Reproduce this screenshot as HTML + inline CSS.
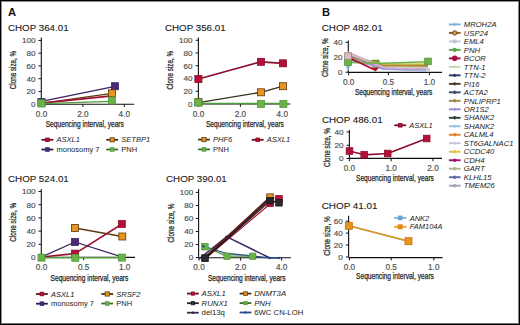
<!DOCTYPE html>
<html><head><meta charset="utf-8"><style>
html,body{margin:0;padding:0;background:#fff;}
#w{position:relative;width:520px;height:325px;overflow:hidden;background:#fff;}
svg{position:absolute;left:0;top:0;font-family:"Liberation Sans", sans-serif;}
</style></head><body><div id="w">
<svg width="520" height="325" viewBox="0 0 520 325">
<rect x="0" y="0" width="520" height="325" fill="#fff"/>
<text x="7.9" y="15.8" font-size="11.2" text-anchor="start" fill="#111" font-weight="bold" >A</text>
<text x="321.9" y="15.8" font-size="11.2" text-anchor="start" fill="#111" font-weight="bold" >B</text>
<text x="8" y="30.6" font-size="9.9" text-anchor="start" fill="#1a1a1a" stroke="#1a1a1a" stroke-width="0.12" textLength="60.6" lengthAdjust="spacingAndGlyphs" >CHOP 364.01</text>
<line x1="41.3" y1="37.6" x2="41.3" y2="104.2" stroke="#111" stroke-width="1.1"/>
<line x1="38.5" y1="104.2" x2="41.3" y2="104.2" stroke="#111" stroke-width="1"/>
<text x="35.4" y="107.05" font-size="8.1" text-anchor="end" fill="#505050" stroke="#505050" stroke-width="0.18" >0</text>
<line x1="38.5" y1="91.44800000000001" x2="41.3" y2="91.44800000000001" stroke="#111" stroke-width="1"/>
<text x="35.4" y="94.298" font-size="8.1" text-anchor="end" fill="#505050" stroke="#505050" stroke-width="0.18" >20</text>
<line x1="38.5" y1="78.696" x2="41.3" y2="78.696" stroke="#111" stroke-width="1"/>
<text x="35.4" y="81.54599999999999" font-size="8.1" text-anchor="end" fill="#505050" stroke="#505050" stroke-width="0.18" >40</text>
<line x1="38.5" y1="65.944" x2="41.3" y2="65.944" stroke="#111" stroke-width="1"/>
<text x="35.4" y="68.794" font-size="8.1" text-anchor="end" fill="#505050" stroke="#505050" stroke-width="0.18" >60</text>
<line x1="38.5" y1="53.19200000000001" x2="41.3" y2="53.19200000000001" stroke="#111" stroke-width="1"/>
<text x="35.4" y="56.04200000000001" font-size="8.1" text-anchor="end" fill="#505050" stroke="#505050" stroke-width="0.18" >80</text>
<line x1="38.5" y1="40.44000000000001" x2="41.3" y2="40.44000000000001" stroke="#111" stroke-width="1"/>
<text x="35.4" y="43.29000000000001" font-size="8.1" text-anchor="end" fill="#505050" stroke="#505050" stroke-width="0.18" >100</text>
<line x1="41" y1="104.2" x2="134.2" y2="104.2" stroke="#111" stroke-width="1.1"/>
<line x1="41.5" y1="104.2" x2="41.5" y2="107.0" stroke="#111" stroke-width="1"/>
<text x="41.5" y="116.6" font-size="8.2" text-anchor="middle" fill="#505050" stroke="#505050" stroke-width="0.18" >0.0</text>
<line x1="82.9" y1="104.2" x2="82.9" y2="107.0" stroke="#111" stroke-width="1"/>
<text x="82.9" y="116.6" font-size="8.2" text-anchor="middle" fill="#505050" stroke="#505050" stroke-width="0.18" >2.0</text>
<line x1="124.3" y1="104.2" x2="124.3" y2="107.0" stroke="#111" stroke-width="1"/>
<text x="124.3" y="116.6" font-size="8.2" text-anchor="middle" fill="#505050" stroke="#505050" stroke-width="0.18" >4.0</text>
<text x="45.7" y="127.4" font-size="9.0" text-anchor="start" fill="#222" stroke="#222" stroke-width="0.25" textLength="78.2" lengthAdjust="spacingAndGlyphs" >Sequencing interval, years</text>
<text x="15.78" y="89.3" font-size="9.0" text-anchor="start" fill="#2a2a2a" stroke="#2a2a2a" stroke-width="0.28" textLength="38.5" lengthAdjust="spacingAndGlyphs" transform="rotate(-90 15.78 89.3)" >Clone size, %</text>
<polyline points="41.5,101.4 115,86.4" fill="none" stroke="#3a2060" stroke-width="1.3" stroke-linejoin="round"/>
<polyline points="41.5,103.4 112,93.3" fill="none" stroke="#5a3a10" stroke-width="1.3" stroke-linejoin="round"/>
<polyline points="41.5,103.2 112,95.9" fill="none" stroke="#a01030" stroke-width="1.8" stroke-linejoin="round"/>
<polyline points="41.5,103.6 112,101.3" fill="none" stroke="#4f9a3a" stroke-width="1.3" stroke-linejoin="round"/>
<rect x="37.9" y="98.60000000000001" width="7.2" height="7.2" fill="#4a2a78" stroke="#3a2060" stroke-width="0.8"/>
<rect x="111.5" y="82.7" width="7.0" height="7.0" fill="#4a2a78" stroke="#3a2060" stroke-width="0.8"/>
<rect x="108.4" y="89.8" width="7.0" height="7.0" fill="#e8951e" stroke="#5a3a10" stroke-width="0.8"/>
<rect x="37.9" y="99.80000000000001" width="7.2" height="7.2" fill="#6cb247" stroke="#4f9a3a" stroke-width="0.8"/>
<rect x="108.4" y="97.1" width="7.0" height="7.0" fill="#6cb247" stroke="#4f9a3a" stroke-width="0.8"/>
<line x1="41.5" y1="139.8" x2="53.3" y2="139.8" stroke="#6a0a22" stroke-width="1.8"/>
<rect x="45.6" y="138.0" width="3.6000000000000005" height="3.6000000000000005" fill="#b4103a" stroke="#8a0c28" stroke-width="0.8"/>
<text x="56.5" y="142.4" font-size="7.5" text-anchor="start" fill="#222" font-style="italic" >ASXL1</text>
<line x1="41.5" y1="149.5" x2="53.3" y2="149.5" stroke="#2a1a50" stroke-width="1.8"/>
<rect x="45.6" y="147.7" width="3.6000000000000005" height="3.6000000000000005" fill="#4a2a78" stroke="#3a2060" stroke-width="0.8"/>
<text x="56.5" y="152.1" font-size="7.5" text-anchor="start" fill="#222"  >monosomy 7</text>
<line x1="106.3" y1="139.8" x2="118.1" y2="139.8" stroke="#4a3212" stroke-width="1.8"/>
<rect x="110.10000000000001" y="137.70000000000002" width="4.2" height="4.2" fill="#e8951e" stroke="#5a3a10" stroke-width="0.8"/>
<text x="121.3" y="142.4" font-size="7.5" text-anchor="start" fill="#222" font-style="italic" >SETBP1</text>
<line x1="106.3" y1="149.5" x2="118.1" y2="149.5" stroke="#3a6a30" stroke-width="1.8"/>
<rect x="110.4" y="147.7" width="3.6000000000000005" height="3.6000000000000005" fill="#6cb247" stroke="#4f9a3a" stroke-width="0.8"/>
<text x="121.3" y="152.1" font-size="7.5" text-anchor="start" fill="#222"  >PNH</text>
<text x="165" y="30.6" font-size="9.9" text-anchor="start" fill="#1a1a1a" stroke="#1a1a1a" stroke-width="0.12" textLength="60.6" lengthAdjust="spacingAndGlyphs" >CHOP 356.01</text>
<line x1="198.4" y1="37.6" x2="198.4" y2="104.0" stroke="#111" stroke-width="1.1"/>
<line x1="195.6" y1="104.0" x2="198.4" y2="104.0" stroke="#111" stroke-width="1"/>
<text x="192.6" y="106.85" font-size="8.1" text-anchor="end" fill="#505050" stroke="#505050" stroke-width="0.18" >0</text>
<line x1="195.6" y1="91.248" x2="198.4" y2="91.248" stroke="#111" stroke-width="1"/>
<text x="192.6" y="94.098" font-size="8.1" text-anchor="end" fill="#505050" stroke="#505050" stroke-width="0.18" >20</text>
<line x1="195.6" y1="78.49600000000001" x2="198.4" y2="78.49600000000001" stroke="#111" stroke-width="1"/>
<text x="192.6" y="81.346" font-size="8.1" text-anchor="end" fill="#505050" stroke="#505050" stroke-width="0.18" >40</text>
<line x1="195.6" y1="65.744" x2="198.4" y2="65.744" stroke="#111" stroke-width="1"/>
<text x="192.6" y="68.594" font-size="8.1" text-anchor="end" fill="#505050" stroke="#505050" stroke-width="0.18" >60</text>
<line x1="195.6" y1="52.992000000000004" x2="198.4" y2="52.992000000000004" stroke="#111" stroke-width="1"/>
<text x="192.6" y="55.842000000000006" font-size="8.1" text-anchor="end" fill="#505050" stroke="#505050" stroke-width="0.18" >80</text>
<line x1="195.6" y1="40.24000000000001" x2="198.4" y2="40.24000000000001" stroke="#111" stroke-width="1"/>
<text x="192.6" y="43.09000000000001" font-size="8.1" text-anchor="end" fill="#505050" stroke="#505050" stroke-width="0.18" >100</text>
<line x1="198.4" y1="104.0" x2="290.3" y2="104.0" stroke="#111" stroke-width="1.1"/>
<line x1="198.5" y1="104.0" x2="198.5" y2="106.8" stroke="#111" stroke-width="1"/>
<text x="198.5" y="116.6" font-size="8.2" text-anchor="middle" fill="#505050" stroke="#505050" stroke-width="0.18" >0.0</text>
<line x1="240.4" y1="104.0" x2="240.4" y2="106.8" stroke="#111" stroke-width="1"/>
<text x="240.4" y="116.6" font-size="8.2" text-anchor="middle" fill="#505050" stroke="#505050" stroke-width="0.18" >2.0</text>
<line x1="282.3" y1="104.0" x2="282.3" y2="106.8" stroke="#111" stroke-width="1"/>
<text x="282.3" y="116.6" font-size="8.2" text-anchor="middle" fill="#505050" stroke="#505050" stroke-width="0.18" >4.0</text>
<text x="205.9" y="127.4" font-size="9.0" text-anchor="start" fill="#222" stroke="#222" stroke-width="0.25" textLength="78.0" lengthAdjust="spacingAndGlyphs" >Sequencing interval, years</text>
<text x="172.88" y="89.5" font-size="9.0" text-anchor="start" fill="#2a2a2a" stroke="#2a2a2a" stroke-width="0.28" textLength="38.5" lengthAdjust="spacingAndGlyphs" transform="rotate(-90 172.88 89.5)" >Clone size, %</text>
<polyline points="198.4,79 261,61.8 283,63.3" fill="none" stroke="#8c1030" stroke-width="1.7" stroke-linejoin="round"/>
<polyline points="198.4,102.6 261,92.3 283,86.2" fill="none" stroke="#3a3020" stroke-width="1.4" stroke-linejoin="round"/>
<polyline points="198.4,103.4 283.4,103.6" fill="none" stroke="#4f9a3a" stroke-width="1.5" stroke-linejoin="round"/>
<rect x="194.85" y="75.45" width="7.1000000000000005" height="7.1000000000000005" fill="#b4103a" stroke="#8a0c28" stroke-width="0.8"/>
<rect x="257.5" y="58.3" width="7.0" height="7.0" fill="#b4103a" stroke="#8a0c28" stroke-width="0.8"/>
<rect x="279.5" y="59.8" width="7.0" height="7.0" fill="#b4103a" stroke="#8a0c28" stroke-width="0.8"/>
<rect x="257.5" y="88.8" width="7.0" height="7.0" fill="#e8951e" stroke="#5a3a10" stroke-width="0.8"/>
<rect x="279.5" y="82.7" width="7.0" height="7.0" fill="#e8951e" stroke="#5a3a10" stroke-width="0.8"/>
<rect x="194.85" y="98.65" width="7.1000000000000005" height="7.1000000000000005" fill="#e8951e" stroke="#5a3a10" stroke-width="0.8"/>
<rect x="194.75" y="99.05" width="7.1000000000000005" height="7.1000000000000005" fill="#6cb247" stroke="#4f9a3a" stroke-width="0.8"/>
<rect x="257.5" y="100.4" width="7.0" height="7.0" fill="#6cb247" stroke="#4f9a3a" stroke-width="0.8"/>
<rect x="279.9" y="100.4" width="7.0" height="7.0" fill="#6cb247" stroke="#4f9a3a" stroke-width="0.8"/>
<line x1="198.1" y1="139.6" x2="209.9" y2="139.6" stroke="#4a3212" stroke-width="1.8"/>
<rect x="201.9" y="137.5" width="4.2" height="4.2" fill="#e8951e" stroke="#5a3a10" stroke-width="0.8"/>
<text x="213.1" y="142.2" font-size="7.5" text-anchor="start" fill="#222" font-style="italic" >PHF6</text>
<line x1="198.1" y1="149.4" x2="209.9" y2="149.4" stroke="#3a6a30" stroke-width="1.8"/>
<rect x="202.2" y="147.6" width="3.6000000000000005" height="3.6000000000000005" fill="#6cb247" stroke="#4f9a3a" stroke-width="0.8"/>
<text x="213.1" y="152.0" font-size="7.5" text-anchor="start" fill="#222"  >PNH</text>
<line x1="251.8" y1="139.8" x2="263.6" y2="139.8" stroke="#6a0a22" stroke-width="1.8"/>
<rect x="255.89999999999998" y="138.0" width="3.6000000000000005" height="3.6000000000000005" fill="#b4103a" stroke="#8a0c28" stroke-width="0.8"/>
<text x="266.8" y="142.4" font-size="7.5" text-anchor="start" fill="#222" font-style="italic" >ASXL1</text>
<text x="8" y="181.5" font-size="9.9" text-anchor="start" fill="#1a1a1a" stroke="#1a1a1a" stroke-width="0.12" textLength="60.8" lengthAdjust="spacingAndGlyphs" >CHOP 524.01</text>
<line x1="41.3" y1="189" x2="41.3" y2="257.5" stroke="#111" stroke-width="1.1"/>
<line x1="38.5" y1="257.5" x2="41.3" y2="257.5" stroke="#111" stroke-width="1"/>
<text x="35.4" y="260.35" font-size="8.1" text-anchor="end" fill="#505050" stroke="#505050" stroke-width="0.18" >0</text>
<line x1="38.5" y1="244.3" x2="41.3" y2="244.3" stroke="#111" stroke-width="1"/>
<text x="35.4" y="247.15" font-size="8.1" text-anchor="end" fill="#505050" stroke="#505050" stroke-width="0.18" >20</text>
<line x1="38.5" y1="231.1" x2="41.3" y2="231.1" stroke="#111" stroke-width="1"/>
<text x="35.4" y="233.95" font-size="8.1" text-anchor="end" fill="#505050" stroke="#505050" stroke-width="0.18" >40</text>
<line x1="38.5" y1="217.9" x2="41.3" y2="217.9" stroke="#111" stroke-width="1"/>
<text x="35.4" y="220.75" font-size="8.1" text-anchor="end" fill="#505050" stroke="#505050" stroke-width="0.18" >60</text>
<line x1="38.5" y1="204.7" x2="41.3" y2="204.7" stroke="#111" stroke-width="1"/>
<text x="35.4" y="207.54999999999998" font-size="8.1" text-anchor="end" fill="#505050" stroke="#505050" stroke-width="0.18" >80</text>
<line x1="38.5" y1="191.5" x2="41.3" y2="191.5" stroke="#111" stroke-width="1"/>
<text x="35.4" y="194.35" font-size="8.1" text-anchor="end" fill="#505050" stroke="#505050" stroke-width="0.18" >100</text>
<line x1="41" y1="257.4" x2="135" y2="257.4" stroke="#111" stroke-width="1.1"/>
<line x1="41.5" y1="257.4" x2="41.5" y2="260.2" stroke="#111" stroke-width="1"/>
<text x="41.5" y="269.8" font-size="8.2" text-anchor="middle" fill="#505050" stroke="#505050" stroke-width="0.18" >0.0</text>
<line x1="83.6" y1="257.4" x2="83.6" y2="260.2" stroke="#111" stroke-width="1"/>
<text x="83.6" y="269.8" font-size="8.2" text-anchor="middle" fill="#505050" stroke="#505050" stroke-width="0.18" >0.5</text>
<line x1="124.7" y1="257.4" x2="124.7" y2="260.2" stroke="#111" stroke-width="1"/>
<text x="124.7" y="269.8" font-size="8.2" text-anchor="middle" fill="#505050" stroke="#505050" stroke-width="0.18" >1.0</text>
<text x="50.6" y="280.8" font-size="9.0" text-anchor="start" fill="#222" stroke="#222" stroke-width="0.25" textLength="77.7" lengthAdjust="spacingAndGlyphs" >Sequencing interval, years</text>
<text x="15.88" y="241.8" font-size="9.0" text-anchor="start" fill="#2a2a2a" stroke="#2a2a2a" stroke-width="0.28" textLength="38.9" lengthAdjust="spacingAndGlyphs" transform="rotate(-90 15.88 241.8)" >Clone size, %</text>
<polyline points="75,228 122,236.5" fill="none" stroke="#5a3a10" stroke-width="1.3" stroke-linejoin="round"/>
<polyline points="41.5,257 75,253.6 122,224" fill="none" stroke="#a01030" stroke-width="1.6" stroke-linejoin="round"/>
<polyline points="41.5,257 75,242 122,257" fill="none" stroke="#3a2060" stroke-width="1.3" stroke-linejoin="round"/>
<polyline points="41.5,257.8 122,257.8" fill="none" stroke="#4f9a3a" stroke-width="1.5" stroke-linejoin="round"/>
<rect x="71.5" y="224.5" width="7.0" height="7.0" fill="#e8951e" stroke="#5a3a10" stroke-width="0.8"/>
<rect x="118.8" y="233.0" width="7.0" height="7.0" fill="#e8951e" stroke="#5a3a10" stroke-width="0.8"/>
<rect x="118.3" y="220.5" width="7.0" height="7.0" fill="#b4103a" stroke="#8a0c28" stroke-width="0.8"/>
<rect x="71.5" y="250.1" width="7.0" height="7.0" fill="#b4103a" stroke="#8a0c28" stroke-width="0.8"/>
<rect x="71.5" y="238.5" width="7.0" height="7.0" fill="#4a2a78" stroke="#3a2060" stroke-width="0.8"/>
<rect x="38.0" y="254.10000000000002" width="7.0" height="7.0" fill="#6cb247" stroke="#4f9a3a" stroke-width="0.8"/>
<rect x="71.8" y="254.3" width="7.0" height="7.0" fill="#6cb247" stroke="#4f9a3a" stroke-width="0.8"/>
<rect x="118.5" y="254.10000000000002" width="7.0" height="7.0" fill="#6cb247" stroke="#4f9a3a" stroke-width="0.8"/>
<line x1="36" y1="294" x2="47.8" y2="294" stroke="#6a0a22" stroke-width="1.8"/>
<rect x="40.1" y="292.2" width="3.6000000000000005" height="3.6000000000000005" fill="#b4103a" stroke="#8a0c28" stroke-width="0.8"/>
<text x="51.0" y="296.6" font-size="7.5" text-anchor="start" fill="#222" font-style="italic" >ASXL1</text>
<line x1="36" y1="303.7" x2="47.8" y2="303.7" stroke="#2a1a50" stroke-width="1.8"/>
<rect x="40.1" y="301.9" width="3.6000000000000005" height="3.6000000000000005" fill="#4a2a78" stroke="#3a2060" stroke-width="0.8"/>
<text x="51.0" y="306.3" font-size="7.5" text-anchor="start" fill="#222"  >monosomy 7</text>
<line x1="101.3" y1="294" x2="113.1" y2="294" stroke="#4a3212" stroke-width="1.8"/>
<rect x="105.10000000000001" y="291.9" width="4.2" height="4.2" fill="#e8951e" stroke="#5a3a10" stroke-width="0.8"/>
<text x="116.3" y="296.6" font-size="7.5" text-anchor="start" fill="#222" font-style="italic" >SRSF2</text>
<line x1="101.3" y1="303.5" x2="113.1" y2="303.5" stroke="#3a6a30" stroke-width="1.8"/>
<rect x="105.4" y="301.7" width="3.6000000000000005" height="3.6000000000000005" fill="#6cb247" stroke="#4f9a3a" stroke-width="0.8"/>
<text x="116.3" y="306.1" font-size="7.5" text-anchor="start" fill="#222"  >PNH</text>
<text x="166" y="181.5" font-size="9.9" text-anchor="start" fill="#1a1a1a" stroke="#1a1a1a" stroke-width="0.12" textLength="60.8" lengthAdjust="spacingAndGlyphs" >CHOP 390.01</text>
<line x1="198.6" y1="189" x2="198.6" y2="257.6" stroke="#111" stroke-width="1.1"/>
<line x1="195.79999999999998" y1="257.6" x2="198.6" y2="257.6" stroke="#111" stroke-width="1"/>
<text x="193.2" y="260.45000000000005" font-size="8.1" text-anchor="end" fill="#505050" stroke="#505050" stroke-width="0.18" >0</text>
<line x1="195.79999999999998" y1="244.56000000000003" x2="198.6" y2="244.56000000000003" stroke="#111" stroke-width="1"/>
<text x="193.2" y="247.41000000000003" font-size="8.1" text-anchor="end" fill="#505050" stroke="#505050" stroke-width="0.18" >20</text>
<line x1="195.79999999999998" y1="231.52" x2="198.6" y2="231.52" stroke="#111" stroke-width="1"/>
<text x="193.2" y="234.37" font-size="8.1" text-anchor="end" fill="#505050" stroke="#505050" stroke-width="0.18" >40</text>
<line x1="195.79999999999998" y1="218.48000000000002" x2="198.6" y2="218.48000000000002" stroke="#111" stroke-width="1"/>
<text x="193.2" y="221.33" font-size="8.1" text-anchor="end" fill="#505050" stroke="#505050" stroke-width="0.18" >60</text>
<line x1="195.79999999999998" y1="205.44000000000003" x2="198.6" y2="205.44000000000003" stroke="#111" stroke-width="1"/>
<text x="193.2" y="208.29000000000002" font-size="8.1" text-anchor="end" fill="#505050" stroke="#505050" stroke-width="0.18" >80</text>
<line x1="195.79999999999998" y1="192.40000000000003" x2="198.6" y2="192.40000000000003" stroke="#111" stroke-width="1"/>
<text x="193.2" y="195.25000000000003" font-size="8.1" text-anchor="end" fill="#505050" stroke="#505050" stroke-width="0.18" >100</text>
<line x1="198.6" y1="257.8" x2="291" y2="257.8" stroke="#111" stroke-width="1.1"/>
<line x1="199.0" y1="257.8" x2="199.0" y2="260.6" stroke="#111" stroke-width="1"/>
<text x="199.0" y="270.2" font-size="8.2" text-anchor="middle" fill="#505050" stroke="#505050" stroke-width="0.18" >0.0</text>
<line x1="240.6" y1="257.8" x2="240.6" y2="260.6" stroke="#111" stroke-width="1"/>
<text x="240.6" y="270.2" font-size="8.2" text-anchor="middle" fill="#505050" stroke="#505050" stroke-width="0.18" >2.0</text>
<line x1="281.6" y1="257.8" x2="281.6" y2="260.6" stroke="#111" stroke-width="1"/>
<text x="281.6" y="270.2" font-size="8.2" text-anchor="middle" fill="#505050" stroke="#505050" stroke-width="0.18" >4.0</text>
<text x="207.9" y="280.8" font-size="9.0" text-anchor="start" fill="#222" stroke="#222" stroke-width="0.25" textLength="77.7" lengthAdjust="spacingAndGlyphs" >Sequencing interval, years</text>
<text x="173.57999999999998" y="242.6" font-size="9.0" text-anchor="start" fill="#2a2a2a" stroke="#2a2a2a" stroke-width="0.28" textLength="39.1" lengthAdjust="spacingAndGlyphs" transform="rotate(-90 173.57999999999998 242.6)" >Clone size, %</text>
<polyline points="199,259 226.5,236.7 270,258" fill="none" stroke="#3a2060" stroke-width="1.4" stroke-linejoin="round"/>
<polyline points="204.6,246.7 226.7,253.5 252.7,256 270,258 279,258" fill="none" stroke="#2a4a8a" stroke-width="1.3" stroke-linejoin="round"/>
<polyline points="204.6,246.7 226.7,256.2 252.7,256.2" fill="none" stroke="#4f9a3a" stroke-width="1.3" stroke-linejoin="round"/>
<polyline points="205,258 270,198" fill="none" stroke="#4a1a22" stroke-width="2.9" stroke-linejoin="round"/>
<polyline points="206,258 270,204 279,199" fill="none" stroke="#a01030" stroke-width="1.1" stroke-linejoin="round"/>
<polyline points="204,257.5 270,197 279,199" fill="none" stroke="#6a3a14" stroke-width="0.9" stroke-linejoin="round"/>
<polyline points="205.5,258.2 270,201 279,203" fill="none" stroke="#1a1a1a" stroke-width="1.1" stroke-linejoin="round"/>
<rect x="201.65" y="243.45" width="6.5" height="6.5" fill="#6cb247" stroke="#4f9a3a" stroke-width="0.8"/>
<circle cx="203.5" cy="246.2" r="1.3" fill="#2a4a8a"/>
<rect x="201.7" y="254.8" width="6.6000000000000005" height="6.6000000000000005" fill="#2a2a2a" stroke="#111" stroke-width="0.8"/>
<rect x="223.9" y="253.1" width="6.2" height="6.2" fill="#6cb247" stroke="#4f9a3a" stroke-width="0.8"/>
<rect x="249.6" y="253.1" width="6.2" height="6.2" fill="#6cb247" stroke="#4f9a3a" stroke-width="0.8"/>
<rect x="266.75" y="200.05" width="6.5" height="6.5" fill="#b4103a" stroke="#8a0c28" stroke-width="0.8"/>
<rect x="266.75" y="193.85" width="6.5" height="6.5" fill="#e8951e" stroke="#5a3a10" stroke-width="0.8"/>
<rect x="266.75" y="197.45" width="6.5" height="6.5" fill="#2a2228" stroke="#1a1a1a" stroke-width="0.8"/>
<rect x="275.75" y="195.45" width="6.5" height="6.5" fill="#b4103a" stroke="#8a0c28" stroke-width="0.8"/>
<rect x="275.75" y="199.55" width="6.5" height="6.5" fill="#2a2a2a" stroke="#1a1a1a" stroke-width="0.8"/>
<circle cx="226.5" cy="236.7" r="1.3" fill="#3a2060"/>
<circle cx="270" cy="258" r="1.3" fill="#2a4a8a"/>
<circle cx="279" cy="258" r="1.3" fill="#2a4a8a"/>
<line x1="187" y1="293.6" x2="198.8" y2="293.6" stroke="#6a0a22" stroke-width="1.8"/>
<rect x="191.3" y="292.0" width="3.2" height="3.2" fill="#b4103a" stroke="#8a0c28" stroke-width="0.8"/>
<text x="201.60000000000002" y="296.20000000000005" font-size="7.75" text-anchor="start" fill="#222" font-style="italic" >ASXL1</text>
<line x1="187" y1="303.2" x2="198.8" y2="303.2" stroke="#222" stroke-width="1.8"/>
<rect x="191.3" y="301.59999999999997" width="3.2" height="3.2" fill="#333" stroke="#111" stroke-width="0.8"/>
<text x="201.60000000000002" y="305.8" font-size="7.75" text-anchor="start" fill="#222" font-style="italic" >RUNX1</text>
<line x1="187" y1="312.7" x2="198.8" y2="312.7" stroke="#3a2a50" stroke-width="1.8"/>
<circle cx="192.9" cy="312.7" r="1.2" fill="#3a2060"/>
<text x="201.60000000000002" y="315.3" font-size="7.75" text-anchor="start" fill="#222"  >del13q</text>
<line x1="239.6" y1="293.6" x2="251.4" y2="293.6" stroke="#4a3212" stroke-width="1.8"/>
<rect x="243.7" y="291.8" width="3.6000000000000005" height="3.6000000000000005" fill="#e8951e" stroke="#5a3a10" stroke-width="0.8"/>
<text x="254.20000000000002" y="296.20000000000005" font-size="7.75" text-anchor="start" fill="#222" font-style="italic" >DNMT3A</text>
<line x1="239.6" y1="303.1" x2="251.4" y2="303.1" stroke="#3a6a30" stroke-width="1.8"/>
<rect x="243.9" y="301.5" width="3.2" height="3.2" fill="#6cb247" stroke="#4f9a3a" stroke-width="0.8"/>
<text x="254.20000000000002" y="305.70000000000005" font-size="7.75" text-anchor="start" fill="#222" font-style="italic" >PNH</text>
<line x1="239.6" y1="312.5" x2="251.4" y2="312.5" stroke="#2a4a8a" stroke-width="1.8"/>
<circle cx="245.5" cy="312.5" r="1.2" fill="#2a4a8a"/>
<text x="254.20000000000002" y="315.1" font-size="7.75" text-anchor="start" fill="#222"  >6WC CN-LOH</text>
<text x="321.7" y="30.8" font-size="9.9" text-anchor="start" fill="#1a1a1a" stroke="#1a1a1a" stroke-width="0.12" textLength="61" lengthAdjust="spacingAndGlyphs" >CHOP 482.01</text>
<line x1="348.3" y1="40.5" x2="348.3" y2="72.2" stroke="#111" stroke-width="1.1"/>
<line x1="345.5" y1="72.2" x2="348.3" y2="72.2" stroke="#111" stroke-width="1"/>
<text x="342.6" y="75.05" font-size="8.1" text-anchor="end" fill="#505050" stroke="#505050" stroke-width="0.18" >0</text>
<line x1="345.5" y1="57.24" x2="348.3" y2="57.24" stroke="#111" stroke-width="1"/>
<text x="342.6" y="60.09" font-size="8.1" text-anchor="end" fill="#505050" stroke="#505050" stroke-width="0.18" >20</text>
<line x1="345.5" y1="42.28" x2="348.3" y2="42.28" stroke="#111" stroke-width="1"/>
<text x="342.6" y="45.13" font-size="8.1" text-anchor="end" fill="#505050" stroke="#505050" stroke-width="0.18" >40</text>
<line x1="348.3" y1="72.4" x2="442" y2="72.4" stroke="#111" stroke-width="1.1"/>
<line x1="348.6" y1="72.4" x2="348.6" y2="75.2" stroke="#111" stroke-width="1"/>
<text x="348.6" y="84.9" font-size="8.2" text-anchor="middle" fill="#505050" stroke="#505050" stroke-width="0.18" >0.0</text>
<line x1="388.4" y1="72.4" x2="388.4" y2="75.2" stroke="#111" stroke-width="1"/>
<text x="388.4" y="84.9" font-size="8.2" text-anchor="middle" fill="#505050" stroke="#505050" stroke-width="0.18" >0.5</text>
<line x1="429.4" y1="72.4" x2="429.4" y2="75.2" stroke="#111" stroke-width="1"/>
<text x="429.4" y="84.9" font-size="8.2" text-anchor="middle" fill="#505050" stroke="#505050" stroke-width="0.18" >1.0</text>
<text x="354.9" y="94.7" font-size="9.0" text-anchor="start" fill="#222" stroke="#222" stroke-width="0.25" textLength="77.5" lengthAdjust="spacingAndGlyphs" >Sequencing interval, years</text>
<text x="328.48" y="77.1" font-size="9.0" text-anchor="start" fill="#2a2a2a" stroke="#2a2a2a" stroke-width="0.28" textLength="38.7" lengthAdjust="spacingAndGlyphs" transform="rotate(-90 328.48 77.1)" >Clone size, %</text>
<rect x="372.20000000000005" y="60.2" width="6.8" height="6.8" fill="#7a9a30" stroke="#5a7a20" stroke-width="0.8"/>
<polyline points="348,56.492000000000004 383,68.46000000000001 428,70.70400000000001" fill="none" stroke="#6aaee0" stroke-width="1.6" stroke-linejoin="round"/>
<polyline points="348,57.24 383,65.468 428,65.468" fill="none" stroke="#a86a1a" stroke-width="1.6" stroke-linejoin="round"/>
<polyline points="348,54.996 383,67.712 428,69.956" fill="none" stroke="#b8c8d8" stroke-width="1.6" stroke-linejoin="round"/>
<polyline points="348,52.752 383,66.21600000000001 428,67.712" fill="none" stroke="#c8c0e0" stroke-width="1.6" stroke-linejoin="round"/>
<polyline points="348,55.744 383,63.972 428,64.72" fill="none" stroke="#a8a848" stroke-width="1.6" stroke-linejoin="round"/>
<polyline points="348,57.24 383,64.72 428,63.972" fill="none" stroke="#e0c040" stroke-width="1.6" stroke-linejoin="round"/>
<polyline points="348,56.492000000000004 383,68.46000000000001 428,68.46000000000001" fill="none" stroke="#a01068" stroke-width="1.6" stroke-linejoin="round"/>
<polyline points="348,57.988 383,65.468 428,66.21600000000001" fill="none" stroke="#a8b898" stroke-width="1.6" stroke-linejoin="round"/>
<polyline points="348,59.484 383,67.712 428,69.208" fill="none" stroke="#5a6aa8" stroke-width="1.6" stroke-linejoin="round"/>
<polyline points="348,54.248000000000005 383,66.964 428,68.46000000000001" fill="none" stroke="#a0a0b8" stroke-width="1.6" stroke-linejoin="round"/>
<polyline points="348,55.744 383,66.964 428,66.964" fill="none" stroke="#e08028" stroke-width="1.6" stroke-linejoin="round"/>
<polyline points="348,57.24 383,69.208 428,70.70400000000001" fill="none" stroke="#98b8e0" stroke-width="1.6" stroke-linejoin="round"/>
<polyline points="348,54.996 383,68.46000000000001 428,69.208" fill="none" stroke="#9a88d0" stroke-width="1.6" stroke-linejoin="round"/>
<polyline points="348,56.492000000000004 383,65.468 428,65.468" fill="none" stroke="#a08848" stroke-width="1.6" stroke-linejoin="round"/>
<polyline points="348,53.5 383,66.964 428,67.712" fill="none" stroke="#c0d8b0" stroke-width="1.6" stroke-linejoin="round"/>
<polyline points="348,52.004000000000005 383,67.712 428,69.208" fill="none" stroke="#e0a8d0" stroke-width="1.6" stroke-linejoin="round"/>
<polyline points="348,62.476 383,63.224000000000004 428,61.728" fill="none" stroke="#6cb247" stroke-width="1.6" stroke-linejoin="round"/>
<polyline points="348,57.24 375.6,70.2" fill="none" stroke="#b01020" stroke-width="1.8" stroke-linejoin="round"/>
<path d="M372.2,67.6 L379,67.6 L375.6,71.6 Z" fill="#b01020"/>
<rect x="344.6" y="58.7" width="6.8" height="6.8" fill="#6cb247" stroke="#4f9a3a" stroke-width="0.8"/>
<rect x="424.7" y="58.1" width="6.6000000000000005" height="6.6000000000000005" fill="#6cb247" stroke="#4f9a3a" stroke-width="0.8"/>
<rect x="344.6" y="52.800000000000004" width="6.8" height="6.8" fill="#dcbcc8" stroke="#9a8060" stroke-width="0.8"/>
<path d="M345.6,66.2 L350.4,66.2 L348,71.2 Z" fill="#8ab8e0"/>
<circle cx="428" cy="70" r="2.2" fill="#c8c8d0"/>
<text x="321.9" y="122.6" font-size="9.9" text-anchor="start" fill="#1a1a1a" stroke="#1a1a1a" stroke-width="0.12" textLength="60.8" lengthAdjust="spacingAndGlyphs" >CHOP 486.01</text>
<line x1="349.4" y1="130" x2="349.4" y2="158.5" stroke="#111" stroke-width="1.1"/>
<line x1="346.59999999999997" y1="158.5" x2="349.4" y2="158.5" stroke="#111" stroke-width="1"/>
<text x="343.6" y="161.35" font-size="8.1" text-anchor="end" fill="#505050" stroke="#505050" stroke-width="0.18" >0</text>
<line x1="346.59999999999997" y1="145.25" x2="349.4" y2="145.25" stroke="#111" stroke-width="1"/>
<text x="343.6" y="148.1" font-size="8.1" text-anchor="end" fill="#505050" stroke="#505050" stroke-width="0.18" >20</text>
<line x1="346.59999999999997" y1="132.0" x2="349.4" y2="132.0" stroke="#111" stroke-width="1"/>
<text x="343.6" y="134.85" font-size="8.1" text-anchor="end" fill="#505050" stroke="#505050" stroke-width="0.18" >40</text>
<line x1="349.4" y1="158.4" x2="442" y2="158.4" stroke="#111" stroke-width="1.1"/>
<line x1="349.4" y1="158.4" x2="349.4" y2="161.20000000000002" stroke="#111" stroke-width="1"/>
<text x="349.4" y="171.3" font-size="8.2" text-anchor="middle" fill="#505050" stroke="#505050" stroke-width="0.18" >0.0</text>
<line x1="391.2" y1="158.4" x2="391.2" y2="161.20000000000002" stroke="#111" stroke-width="1"/>
<text x="391.2" y="171.3" font-size="8.2" text-anchor="middle" fill="#505050" stroke="#505050" stroke-width="0.18" >1.0</text>
<line x1="433" y1="158.4" x2="433" y2="161.20000000000002" stroke="#111" stroke-width="1"/>
<text x="433" y="171.3" font-size="8.2" text-anchor="middle" fill="#505050" stroke="#505050" stroke-width="0.18" >2.0</text>
<text x="356.0" y="180.8" font-size="9.0" text-anchor="start" fill="#222" stroke="#222" stroke-width="0.25" textLength="77.9" lengthAdjust="spacingAndGlyphs" >Sequencing interval, years</text>
<text x="329.88" y="166.9" font-size="9.0" text-anchor="start" fill="#2a2a2a" stroke="#2a2a2a" stroke-width="0.28" textLength="38.9" lengthAdjust="spacingAndGlyphs" transform="rotate(-90 329.88 166.9)" >Clone size, %</text>
<polyline points="349.5,151 364.2,154.8 387.7,153.5 426.7,138.5" fill="none" stroke="#8c1030" stroke-width="1.7" stroke-linejoin="round"/>
<rect x="346.2" y="147.7" width="6.6000000000000005" height="6.6000000000000005" fill="#b4103a" stroke="#8a0c28" stroke-width="0.8"/>
<rect x="360.9" y="151.5" width="6.6000000000000005" height="6.6000000000000005" fill="#b4103a" stroke="#8a0c28" stroke-width="0.8"/>
<rect x="384.4" y="150.2" width="6.6000000000000005" height="6.6000000000000005" fill="#b4103a" stroke="#8a0c28" stroke-width="0.8"/>
<rect x="423.4" y="135.2" width="6.6000000000000005" height="6.6000000000000005" fill="#b4103a" stroke="#8a0c28" stroke-width="0.8"/>
<line x1="394.4" y1="125.3" x2="406.09999999999997" y2="125.3" stroke="#6a0a22" stroke-width="1.8"/>
<rect x="398.45" y="123.5" width="3.6000000000000005" height="3.6000000000000005" fill="#b4103a" stroke="#8a0c28" stroke-width="0.8"/>
<text x="409.29999999999995" y="127.89999999999999" font-size="7.5" text-anchor="start" fill="#222" font-style="italic" >ASXL1</text>
<text x="321.7" y="208.8" font-size="9.9" text-anchor="start" fill="#1a1a1a" stroke="#1a1a1a" stroke-width="0.12" textLength="55.8" lengthAdjust="spacingAndGlyphs" >CHOP 41.01</text>
<line x1="348.6" y1="215.7" x2="348.6" y2="257" stroke="#111" stroke-width="1.1"/>
<line x1="345.8" y1="257.0" x2="348.6" y2="257.0" stroke="#111" stroke-width="1"/>
<text x="342.8" y="259.85" font-size="8.1" text-anchor="end" fill="#505050" stroke="#505050" stroke-width="0.18" >0</text>
<line x1="345.8" y1="245.06" x2="348.6" y2="245.06" stroke="#111" stroke-width="1"/>
<text x="342.8" y="247.91" font-size="8.1" text-anchor="end" fill="#505050" stroke="#505050" stroke-width="0.18" >20</text>
<line x1="345.8" y1="233.12" x2="348.6" y2="233.12" stroke="#111" stroke-width="1"/>
<text x="342.8" y="235.97" font-size="8.1" text-anchor="end" fill="#505050" stroke="#505050" stroke-width="0.18" >40</text>
<line x1="345.8" y1="221.18" x2="348.6" y2="221.18" stroke="#111" stroke-width="1"/>
<text x="342.8" y="224.03" font-size="8.1" text-anchor="end" fill="#505050" stroke="#505050" stroke-width="0.18" >60</text>
<line x1="348.6" y1="257.6" x2="442.6" y2="257.6" stroke="#111" stroke-width="1.1"/>
<line x1="349.4" y1="257.6" x2="349.4" y2="260.40000000000003" stroke="#111" stroke-width="1"/>
<text x="349.4" y="269.7" font-size="8.2" text-anchor="middle" fill="#505050" stroke="#505050" stroke-width="0.18" >0.0</text>
<line x1="391.2" y1="257.6" x2="391.2" y2="260.40000000000003" stroke="#111" stroke-width="1"/>
<text x="391.2" y="269.7" font-size="8.2" text-anchor="middle" fill="#505050" stroke="#505050" stroke-width="0.18" >0.5</text>
<line x1="433.8" y1="257.6" x2="433.8" y2="260.40000000000003" stroke="#111" stroke-width="1"/>
<text x="433.8" y="269.7" font-size="8.2" text-anchor="middle" fill="#505050" stroke="#505050" stroke-width="0.18" >1.0</text>
<text x="356.1" y="279.3" font-size="9.0" text-anchor="start" fill="#222" stroke="#222" stroke-width="0.25" textLength="77.8" lengthAdjust="spacingAndGlyphs" >Sequencing interval, years</text>
<text x="329.78" y="255.7" font-size="9.0" text-anchor="start" fill="#2a2a2a" stroke="#2a2a2a" stroke-width="0.28" textLength="39.5" lengthAdjust="spacingAndGlyphs" transform="rotate(-90 329.78 255.7)" >Clone size, %</text>
<polyline points="348.8,225.8 408.5,241.2" fill="none" stroke="#6aaee0" stroke-width="1.4" stroke-linejoin="round"/>
<polyline points="348.8,225.8 408.5,241.2" fill="none" stroke="#e8951e" stroke-width="1.6" stroke-linejoin="round"/>
<rect x="345.3" y="222.3" width="7.0" height="7.0" fill="#e8951e" stroke="#c07010" stroke-width="0.8"/>
<rect x="405.0" y="237.7" width="7.0" height="7.0" fill="#e8951e" stroke="#c07010" stroke-width="0.8"/>
<line x1="394" y1="217.9" x2="406.4" y2="217.9" stroke="#80b4dc" stroke-width="1.8"/>
<rect x="397.9" y="215.6" width="4.6" height="4.6" fill="#6aa4d4"/>
<text x="409.7" y="220.5" font-size="7.5" text-anchor="start" fill="#222" font-style="italic" >ANK2</text>
<line x1="394" y1="226.8" x2="406.4" y2="226.8" stroke="#e4a238" stroke-width="1.8"/>
<rect x="397.7" y="224.3" width="5" height="5" fill="#d88c14"/>
<text x="409.7" y="229.4" font-size="7.5" text-anchor="start" fill="#222" font-style="italic" >FAM104A</text>
<line x1="448.9" y1="24.4" x2="460.6" y2="24.4" stroke="#7ab0d8" stroke-width="1.9"/>
<line x1="454.7" y1="22.799999999999997" x2="454.7" y2="26.0" stroke="#7ab0d8" stroke-width="1"/>
<text x="463.8" y="27.099999999999998" font-size="7.65" text-anchor="start" fill="#222" font-style="italic" >MROH2A</text>
<line x1="448.9" y1="32.89" x2="460.6" y2="32.89" stroke="#8a5a20" stroke-width="1.9"/>
<circle cx="454.7" cy="32.89" r="2.2" fill="#d09850" stroke="#5a3a10" stroke-width="0.8"/>
<text x="463.8" y="35.59" font-size="7.65" text-anchor="start" fill="#222" font-style="italic" >USP24</text>
<line x1="448.9" y1="41.379999999999995" x2="460.6" y2="41.379999999999995" stroke="#c0c8d8" stroke-width="1.9"/>
<circle cx="454.7" cy="41.379999999999995" r="2.2" fill="#c0c8d8"/>
<text x="463.8" y="44.08" font-size="7.65" text-anchor="start" fill="#222" font-style="italic" >EML4</text>
<line x1="448.9" y1="49.87" x2="460.6" y2="49.87" stroke="#5aa848" stroke-width="1.9"/>
<circle cx="454.7" cy="49.87" r="2.2" fill="#5aa848"/>
<text x="463.8" y="52.57" font-size="7.65" text-anchor="start" fill="#222" font-style="italic" >PNH</text>
<line x1="448.9" y1="58.36" x2="460.6" y2="58.36" stroke="#a0103a" stroke-width="1.9"/>
<circle cx="454.7" cy="58.36" r="2.8" fill="#a0103a"/>
<text x="463.8" y="61.06" font-size="7.65" text-anchor="start" fill="#222" font-style="italic" >BCOR</text>
<line x1="448.9" y1="66.85" x2="460.6" y2="66.85" stroke="#c0d8b0" stroke-width="1.9"/>
<line x1="454.7" y1="65.25" x2="454.7" y2="68.44999999999999" stroke="#c0d8b0" stroke-width="1"/>
<text x="463.8" y="69.55" font-size="7.65" text-anchor="start" fill="#222" font-style="italic" >TTN-1</text>
<line x1="448.9" y1="75.34" x2="460.6" y2="75.34" stroke="#2a3a6a" stroke-width="1.9"/>
<circle cx="454.7" cy="75.34" r="1.7" fill="#2a3a6a"/>
<text x="463.8" y="78.04" font-size="7.65" text-anchor="start" fill="#222" font-style="italic" >TTN-2</text>
<line x1="448.9" y1="83.83" x2="460.6" y2="83.83" stroke="#4a3a28" stroke-width="1.9"/>
<circle cx="454.7" cy="83.83" r="1.7" fill="#4a3a28"/>
<text x="463.8" y="86.53" font-size="7.65" text-anchor="start" fill="#222" font-style="italic" >PI16</text>
<line x1="448.9" y1="92.32" x2="460.6" y2="92.32" stroke="#3a4a68" stroke-width="1.9"/>
<circle cx="454.7" cy="92.32" r="1.7" fill="#3a4a68"/>
<text x="463.8" y="95.02" font-size="7.65" text-anchor="start" fill="#222" font-style="italic" >ACTA2</text>
<line x1="448.9" y1="100.81" x2="460.6" y2="100.81" stroke="#a08848" stroke-width="1.9"/>
<circle cx="454.7" cy="100.81" r="1.7" fill="#a08848"/>
<text x="463.8" y="103.51" font-size="7.65" text-anchor="start" fill="#222" font-style="italic" >PNLIPRP1</text>
<line x1="448.9" y1="109.30000000000001" x2="460.6" y2="109.30000000000001" stroke="#9a88d0" stroke-width="1.9"/>
<line x1="454.7" y1="107.70000000000002" x2="454.7" y2="110.9" stroke="#9a88d0" stroke-width="1"/>
<text x="463.8" y="112.00000000000001" font-size="7.65" text-anchor="start" fill="#222" font-style="italic" >OR1S2</text>
<line x1="448.9" y1="117.78999999999999" x2="460.6" y2="117.78999999999999" stroke="#2a4038" stroke-width="1.9"/>
<circle cx="454.7" cy="117.78999999999999" r="1.7" fill="#2a4038"/>
<text x="463.8" y="120.49" font-size="7.65" text-anchor="start" fill="#222" font-style="italic" >SHANK2</text>
<line x1="448.9" y1="126.28" x2="460.6" y2="126.28" stroke="#98b8e0" stroke-width="1.9"/>
<line x1="454.7" y1="124.68" x2="454.7" y2="127.88" stroke="#98b8e0" stroke-width="1"/>
<text x="463.8" y="128.98" font-size="7.65" text-anchor="start" fill="#222" font-style="italic" >SHANK2</text>
<line x1="448.9" y1="134.77" x2="460.6" y2="134.77" stroke="#e08028" stroke-width="1.9"/>
<circle cx="454.7" cy="134.77" r="1.7" fill="#e08028"/>
<text x="463.8" y="137.47" font-size="7.65" text-anchor="start" fill="#222" font-style="italic" >CALML4</text>
<line x1="448.9" y1="143.26" x2="460.6" y2="143.26" stroke="#c8c0dc" stroke-width="1.9"/>
<line x1="454.7" y1="141.66" x2="454.7" y2="144.85999999999999" stroke="#c8c0dc" stroke-width="1"/>
<text x="463.8" y="145.95999999999998" font-size="7.65" text-anchor="start" fill="#222" font-style="italic" >ST6GALNAC1</text>
<line x1="448.9" y1="151.75" x2="460.6" y2="151.75" stroke="#e0c040" stroke-width="1.9"/>
<circle cx="454.7" cy="151.75" r="1.7" fill="#e0c040"/>
<text x="463.8" y="154.45" font-size="7.65" text-anchor="start" fill="#222" font-style="italic" >CCDC40</text>
<line x1="448.9" y1="160.24" x2="460.6" y2="160.24" stroke="#a01068" stroke-width="1.9"/>
<circle cx="454.7" cy="160.24" r="1.7" fill="#a01068"/>
<text x="463.8" y="162.94" font-size="7.65" text-anchor="start" fill="#222" font-style="italic" >CDH4</text>
<line x1="448.9" y1="168.73000000000002" x2="460.6" y2="168.73000000000002" stroke="#a8b890" stroke-width="1.9"/>
<circle cx="454.7" cy="168.73000000000002" r="1.7" fill="#a8b890"/>
<text x="463.8" y="171.43" font-size="7.65" text-anchor="start" fill="#222" font-style="italic" >GART</text>
<line x1="448.9" y1="177.22" x2="460.6" y2="177.22" stroke="#5a6aa8" stroke-width="1.9"/>
<circle cx="454.7" cy="177.22" r="1.7" fill="#5a6aa8"/>
<text x="463.8" y="179.92" font-size="7.65" text-anchor="start" fill="#222" font-style="italic" >KLHL15</text>
<line x1="448.9" y1="185.71" x2="460.6" y2="185.71" stroke="#a0a0b8" stroke-width="1.9"/>
<circle cx="454.7" cy="185.71" r="1.7" fill="#a0a0b8"/>
<text x="463.8" y="188.41" font-size="7.65" text-anchor="start" fill="#222" font-style="italic" >TMEM26</text>
<g shape-rendering="crispEdges">
<rect x="0" y="1" width="520" height="1" fill="#8c8c8c"/>
<rect x="0" y="323" width="520" height="1" fill="#6e6e6e"/>
<rect x="1" y="0" width="1" height="325" fill="#919191"/>
<rect x="518" y="0" width="1" height="325" fill="#828282"/>
<rect x="0" y="0" width="520" height="1" fill="#000"/>
<rect x="0" y="324" width="520" height="1" fill="#000"/>
<rect x="0" y="0" width="1" height="325" fill="#000"/>
<rect x="519" y="0" width="1" height="325" fill="#000"/>
</g>
</svg></div></body></html>
